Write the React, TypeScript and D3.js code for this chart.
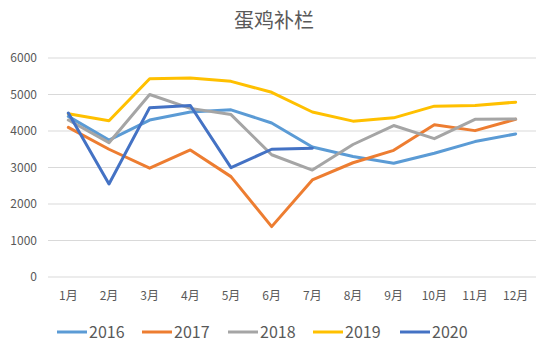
import React from "react";
import * as d3 from "d3";

const months = ["1月", "2月", "3月", "4月", "5月", "6月", "7月", "8月", "9月", "10月", "11月", "12月"];
const yTicks = [0, 1000, 2000, 3000, 4000, 5000, 6000];
const seriesNames = ["2016", "2017", "2018", "2019", "2020"];
const v2016 = [4400, 3750, 4300, 4520, 4580, 4220, 3560, 3300, 3115, 3390, 3710, 3920];
const v2017 = [4100, 3500, 2980, 3480, 2750, 1380, 2660, 3130, 3470, 4170, 4010, 4320];
const v2018 = [4300, 3680, 5000, 4620, 4450, 3350, 2930, 3630, 4150, 3790, 4320, 4330];
const v2019 = [4470, 4280, 5430, 5450, 5360, 5060, 4520, 4270, 4360, 4680, 4700, 4790];
const v2020 = [4490, 2550, 4640, 4700, 2995, 3500, 3530];
const colors = ["#5B9BD5", "#ED7D31", "#A5A5A5", "#FFC000", "#4472C4"];

export default function App() {
  const W = 550, H = 348;
  const left = 48, right = 536, top = 58, bottom = 277;
  const x = d3.scaleBand<string>().domain(months).range([left, right]);
  const y = d3.scaleLinear().domain([0, 6000]).range([bottom, top]);
  const all = [v2016, v2017, v2018, v2019, v2020];
  const line = d3
    .line<number>()
    .x((_, i) => (x(months[i]) as number) + x.bandwidth() / 2)
    .y((d) => y(d));
  const font = "'Noto Sans CJK SC', 'Noto Sans', sans-serif";
  const legendX = [57, 142, 228, 313, 400];
  return (
    <svg width={W} height={H} style={{ position: "absolute", left: 0, top: 0, background: "#fff" }} fontFamily={font}>
      <rect width={W} height={H} fill="#fff" />
      <text x={274} y={28} textAnchor="middle" fontSize={20} fill="#595959">蛋鸡补栏</text>
      {yTicks.map((t) => (
        <g key={t}>
          <line x1={left} x2={right} y1={y(t)} y2={y(t)} stroke="#D9D9D9" strokeWidth={1} />
          <text x={37} y={y(t)} dy="0.35em" textAnchor="end" fontSize={12} fill="#595959">{t}</text>
        </g>
      ))}
      {months.map((m) => (
        <text key={m} x={(x(m) as number) + x.bandwidth() / 2} y={296} dy="0.35em" textAnchor="middle" fontSize={12} fill="#595959">{m}</text>
      ))}
      {all.map((vals, i) => (
        <path key={i} d={line(vals) || ""} fill="none" stroke={colors[i]} strokeWidth={3} strokeLinejoin="round" strokeLinecap="round" />
      ))}
      {seriesNames.map((n, i) => (
        <g key={n}>
          <line x1={legendX[i]} x2={legendX[i] + 30} y1={332} y2={332} stroke={colors[i]} strokeWidth={3} />
          <text x={legendX[i] + 32} y={332} dy="0.35em" fontSize={16} fill="#595959">{n}</text>
        </g>
      ))}
    </svg>
  );
}
